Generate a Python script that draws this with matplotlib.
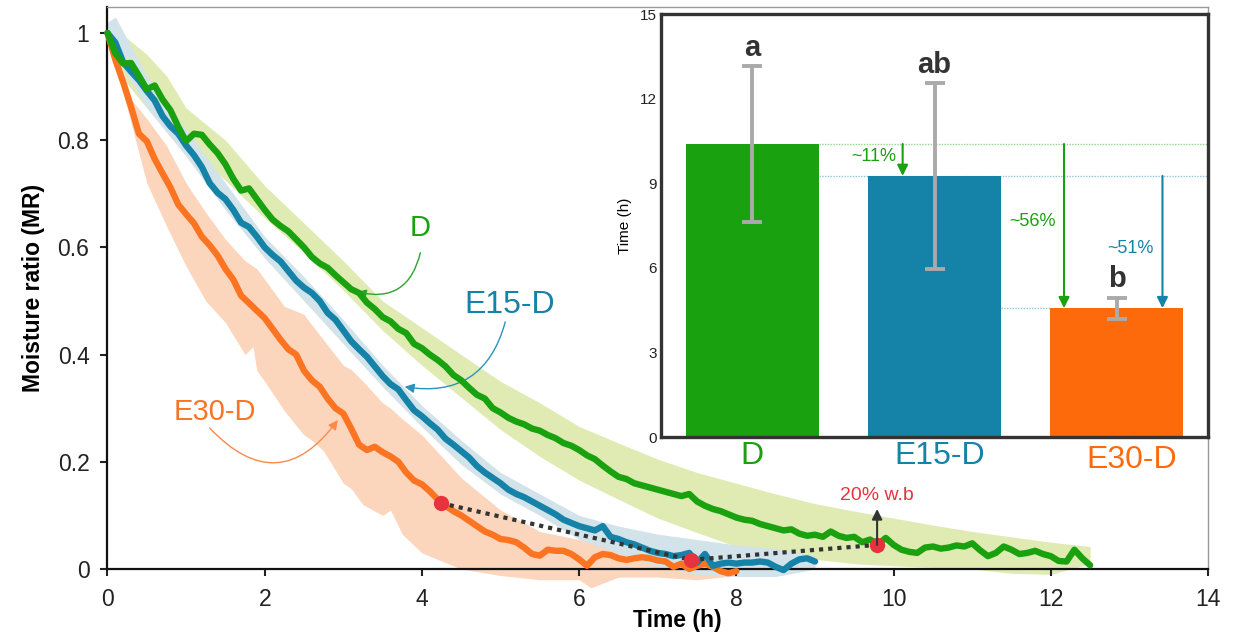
import numpy as np
import matplotlib
matplotlib.use('Agg')
import matplotlib.pyplot as plt
from matplotlib.ticker import FormatStrFormatter
import matplotlib.transforms as mtransforms

plt.rcParams['font.family'] = ['Liberation Sans', 'DejaVu Sans']

## drying curves (moisture ratio), sampled every 0.1 h
green_mr = [1.000, 0.962, 0.943, 0.944, 0.920, 0.895, 0.902, 0.876, 0.856, 0.825,
            0.798, 0.812, 0.810, 0.792, 0.776, 0.755, 0.728, 0.706, 0.710, 0.690,
            0.670, 0.652, 0.640, 0.630, 0.615, 0.600, 0.582, 0.570, 0.562, 0.548,
            0.535, 0.522, 0.515, 0.497, 0.485, 0.470, 0.462, 0.448, 0.440, 0.420,
            0.412, 0.400, 0.390, 0.378, 0.362, 0.352, 0.338, 0.325, 0.318, 0.300,
            0.292, 0.282, 0.275, 0.270, 0.262, 0.258, 0.250, 0.244, 0.235, 0.230,
            0.222, 0.212, 0.205, 0.193, 0.182, 0.172, 0.168, 0.160, 0.156, 0.152,
            0.148, 0.144, 0.140, 0.136, 0.140, 0.126, 0.118, 0.112, 0.108, 0.102,
            0.096, 0.092, 0.090, 0.084, 0.080, 0.076, 0.072, 0.074, 0.066, 0.062,
            0.064, 0.060, 0.070, 0.062, 0.058, 0.060, 0.050, 0.055, 0.046, 0.058,
            0.045, 0.036, 0.032, 0.030, 0.040, 0.042, 0.038, 0.040, 0.044, 0.042,
            0.048, 0.035, 0.024, 0.030, 0.042, 0.036, 0.028, 0.030, 0.034, 0.028,
            0.024, 0.015, 0.014, 0.036, 0.020, 0.007]
blue_mr = [1.000, 0.982, 0.945, 0.928, 0.912, 0.892, 0.874, 0.845, 0.826, 0.812,
           0.790, 0.772, 0.750, 0.720, 0.702, 0.690, 0.670, 0.646, 0.638, 0.620,
           0.600, 0.586, 0.574, 0.556, 0.538, 0.525, 0.515, 0.500, 0.478, 0.465,
           0.445, 0.425, 0.410, 0.396, 0.378, 0.360, 0.345, 0.335, 0.315, 0.296,
           0.285, 0.272, 0.260, 0.243, 0.232, 0.220, 0.208, 0.192, 0.180, 0.170,
           0.160, 0.148, 0.140, 0.134, 0.126, 0.118, 0.110, 0.102, 0.092, 0.086,
           0.080, 0.076, 0.072, 0.080, 0.060, 0.056, 0.050, 0.046, 0.040, 0.034,
           0.030, 0.028, 0.024, 0.026, 0.030, 0.012, 0.028, 0.006, 0.010, 0.012,
           0.010, 0.012, 0.012, 0.014, 0.012, 0.004, -0.002, 0.010, 0.018, 0.020,
           0.014]
orange_mr = [1.000, 0.950, 0.908, 0.862, 0.812, 0.798, 0.765, 0.738, 0.712, 0.680,
             0.662, 0.645, 0.620, 0.604, 0.585, 0.560, 0.540, 0.510, 0.496, 0.482,
             0.468, 0.448, 0.428, 0.410, 0.400, 0.370, 0.352, 0.340, 0.318, 0.300,
             0.290, 0.262, 0.232, 0.222, 0.228, 0.218, 0.210, 0.200, 0.180, 0.165,
             0.158, 0.145, 0.130, 0.118, 0.108, 0.100, 0.090, 0.080, 0.070, 0.064,
             0.056, 0.054, 0.050, 0.040, 0.028, 0.025, 0.036, 0.034, 0.034, 0.028,
             0.018, 0.006, 0.022, 0.028, 0.026, 0.020, 0.017, 0.020, 0.022, 0.020,
             0.016, 0.014, 0.004, 0.010, 0.000, 0.006, 0.010, 0.004, -0.004, -0.008,
             -0.004]

## spread bands
green_band_t = [0, 0.25, 0.5, 0.75, 1.0, 1.5, 2, 2.5, 3, 3.5, 4, 4.5, 5, 5.5, 6, 6.5,
                7, 7.5, 8, 8.5, 9, 9.5, 10, 10.5, 11, 11.5, 12, 12.5]
green_upper = [1.0, 0.99, 0.96, 0.92, 0.86, 0.80, 0.715, 0.645, 0.575, 0.50, 0.45, 0.40,
               0.35, 0.31, 0.266, 0.235, 0.205, 0.18, 0.16, 0.14, 0.122, 0.108, 0.095,
               0.082, 0.07, 0.06, 0.05, 0.042]
green_lower = [1.0, 0.905, 0.86, 0.825, 0.79, 0.725, 0.655, 0.59, 0.52, 0.445, 0.38, 0.32,
               0.26, 0.21, 0.166, 0.13, 0.095, 0.068, 0.042, 0.028, 0.018, 0.01, 0.006,
               0.003, 0.0, -0.008, -0.01, 0.01]
blue_band_t = [0, 0.1, 0.5, 1, 1.5, 2, 2.5, 3, 3.5, 4, 4.5, 5, 5.5, 6, 6.5, 7, 7.5, 8, 8.5, 9]
blue_upper = [1.02, 1.03, 0.92, 0.82, 0.72, 0.62, 0.545, 0.465, 0.38, 0.305, 0.24, 0.18,
              0.14, 0.10, 0.08, 0.065, 0.055, 0.045, 0.038, 0.025]
blue_lower = [0.98, 0.96, 0.86, 0.77, 0.67, 0.58, 0.50, 0.42, 0.34, 0.265, 0.195, 0.14,
              0.10, 0.055, 0.03, 0.005, -0.01, -0.014, -0.014, 0.0]
orange_band_t = [0, 0.25, 0.5, 0.75, 1.0, 1.25, 1.5, 1.75, 1.85, 1.9, 2, 2.25, 2.5, 2.6,
                 2.75, 3, 3.1, 3.25, 3.5, 3.6, 3.75, 4, 4.5, 5, 5.5, 6, 6.15, 6.5, 7, 7.5, 8]
orange_upper = [1.0, 0.885, 0.84, 0.79, 0.72, 0.665, 0.615, 0.575, 0.565, 0.56, 0.54, 0.49,
                0.475, 0.455, 0.427, 0.38, 0.372, 0.35, 0.31, 0.30, 0.28, 0.25, 0.17, 0.11,
                0.07, 0.055, 0.05, 0.048, 0.04, 0.03, 0.015]
orange_lower = [1.0, 0.86, 0.72, 0.64, 0.565, 0.50, 0.46, 0.40, 0.415, 0.37, 0.35, 0.295,
                0.25, 0.24, 0.22, 0.16, 0.15, 0.12, 0.10, 0.11, 0.065, 0.03, 0.0, -0.012,
                -0.02, -0.02, -0.035, -0.015, -0.015, -0.02, -0.012]

## 20% w.b points
wb_t = [4.24, 7.42, 9.79]
wb_mr = [0.123, 0.017, 0.045]

## inset: drying time (h)
groups = ['D', 'E15-D', 'E30-D']
times = [10.39, 9.26, 4.57]
errs = [2.77, 3.30, 0.37]
letters = ['a', 'ab', 'b']
pct_labels = ['~11%', '~56%', '~51%']

c_green, c_blue, c_orange = '#19a10f', '#1582a8', '#fd6a0c'

fig = plt.figure(figsize=(12.37, 6.34), dpi=100)
ax = fig.add_axes([0.0869, 0.1025, 0.8897, 0.8865])

ax.fill_between(green_band_t, green_lower, green_upper, color='#dfebb3', lw=0, zorder=1, clip_on=False)
ax.fill_between(orange_band_t, orange_lower, orange_upper, color='#fcd5bd', lw=0, zorder=1.1, clip_on=False)
ax.fill_between(blue_band_t, blue_lower, blue_upper, color='#d3e3ea', lw=0, zorder=1.2, clip_on=False)

t_green = np.arange(len(green_mr)) * 0.1
t_blue = np.arange(len(blue_mr)) * 0.1
t_orange = np.arange(len(orange_mr)) * 0.1
line_kw = dict(lw=4.6, clip_on=False, solid_joinstyle='round', solid_capstyle='round')
ax.plot(t_orange, orange_mr, color='#fb7421', zorder=3, **line_kw)
ax.plot(t_blue, blue_mr, color=c_blue, zorder=3.1, **line_kw)
ax.plot(t_green, green_mr, color=c_green, zorder=3.2, **line_kw)

# 20% w.b markers
ax.plot(wb_t, wb_mr, color='#333333', lw=3, ls=(0, (1, 1.2)), zorder=4)
ax.plot(wb_t, wb_mr, 'o', color='#e8333f', ms=11, mec='none', zorder=5, clip_on=False)
ax.annotate('', xy=(wb_t[2], 0.112), xytext=(wb_t[2], wb_mr[2]),
            arrowprops=dict(arrowstyle='-|>', color='#333333', lw=1.5, mutation_scale=15,
                            shrinkA=0, shrinkB=0), zorder=6)
ax.text(wb_t[2], 0.122, '20% w.b', color='#e8333f', fontsize=14, ha='center', va='bottom')

# curve labels with curved pointer arrows
ax.text(3.98, 0.636, 'D', color=c_green, fontsize=21, ha='center', va='center')
ax.annotate('', xy=(3.17, 0.517), xytext=(3.98, 0.590),
            arrowprops=dict(arrowstyle='-|>', color='#2aa52a', lw=1, mutation_scale=14,
                            connectionstyle='arc3,rad=-0.5', shrinkA=0, shrinkB=0))
ax.text(5.12, 0.493, 'E15-D', color=c_blue, fontsize=23, ha='center', va='center')
ax.annotate('', xy=(3.78, 0.34), xytext=(5.06, 0.461),
            arrowprops=dict(arrowstyle='-|>', color='#2a93bb', lw=1, mutation_scale=14,
                            connectionstyle='arc3,rad=-0.45', shrinkA=0, shrinkB=0))
ax.text(1.37, 0.293, 'E30-D', color='#fb7421', fontsize=21, ha='center', va='center')
ax.annotate('', xy=(2.93, 0.278), xytext=(1.30, 0.263),
            arrowprops=dict(arrowstyle='-|>', color='#fb8a4a', lw=1, mutation_scale=14,
                            connectionstyle='arc3,rad=0.6', shrinkA=0, shrinkB=0))

ax.set_xlim(0, 14)
ax.set_ylim(0, 1.0485)
ax.set_xticks(range(0, 15, 2))
ax.set_yticks([0, 0.2, 0.4, 0.6, 0.8, 1.0])
ax.yaxis.set_major_formatter(FormatStrFormatter('%g'))
ax.tick_params(direction='out', length=5, width=1.5, labelsize=16.5, colors='#222222', pad=8)
ax.tick_params(axis='x', pad=9)
for s in ['left', 'bottom']:
    ax.spines[s].set_linewidth(1.6)
    ax.spines[s].set_color('#111111')
for s in ['top', 'right']:
    ax.spines[s].set_linewidth(1)
    ax.spines[s].set_color('#999999')
ax.set_ylabel('Moisture ratio (MR)', fontsize=16.5, fontweight='bold', labelpad=9)
ax.set_xlabel('Time (h)', fontsize=16.5, fontweight='bold')
ax.xaxis.set_label_coords(0.5175, -0.091)
ax.xaxis.label.set_va('center')

## inset bar chart
axi = fig.add_axes([0.5344, 0.3107, 0.4422, 0.6672], zorder=10)
x = np.arange(len(groups))
colors = [c_green, c_blue, c_orange]
axi.bar(x, times, width=0.73, color=colors, zorder=2)
axi.errorbar(x, times, yerr=errs, fmt='none', ecolor='#aaaaaa', elinewidth=2.8,
             capsize=7, capthick=2.8, zorder=3)
for xi, t, e, lab in zip(x, times, errs, letters):
    axi.text(xi, t + e + 0.15, lab, ha='center', va='bottom', fontsize=21, fontweight='bold',
             color='#333333', family=['Liberation Sans Narrow', 'Liberation Sans'])

# reference lines between bars
axi.plot([0.365, 2.5], [times[0], times[0]], color='#8fd58a', lw=1, ls=(0, (1, 1)), zorder=1)
axi.plot([0.365, 2.5], [times[1], times[1]], color='#8ec5dc', lw=1, ls=(0, (1, 1)), zorder=1)
axi.plot([1.365, 1.635], [times[2], times[2]], color='#8ec5dc', lw=1, ls=(0, (1, 1)), zorder=1)

arrow_kw = dict(arrowstyle='-|>', lw=1.5, mutation_scale=16, shrinkA=0, shrinkB=0)
axi.annotate('', xy=(0.825, times[1]), xytext=(0.825, times[0]),
             arrowprops=dict(color=c_green, **arrow_kw), zorder=4)
axi.annotate('', xy=(1.71, times[2]), xytext=(1.71, times[0]),
             arrowprops=dict(color=c_green, **arrow_kw), zorder=4)
axi.annotate('', xy=(2.25, times[2]), xytext=(2.25, times[1]),
             arrowprops=dict(color=c_blue, **arrow_kw), zorder=4)
axi.text(0.667, 9.93, pct_labels[0], color=c_green, fontsize=13, ha='center', va='center')
axi.text(1.536, 7.66, pct_labels[1], color=c_green, fontsize=13, ha='center', va='center')
axi.text(2.077, 6.70, pct_labels[2], color=c_blue, fontsize=13, ha='center', va='center')

axi.set_xlim(-0.5, 2.5)
axi.set_ylim(0, 15)
axi.set_yticks([0, 3, 6, 9, 12, 15])
axi.tick_params(axis='y', length=0, labelsize=11, colors='#222222', pad=3)
axi.set_xticks([])
trans = mtransforms.blended_transform_factory(axi.transData, axi.transAxes)
for xi, lab, col, dx, dy in zip(x, groups, colors, [0, 0.03, 0.08], [-0.045, -0.045, -0.055]):
    axi.text(xi + dx, dy, lab, color=col, fontsize=23, ha='center', va='center', transform=trans)
axi.set_ylabel('Time (h)', fontsize=11, labelpad=6)
for s in axi.spines.values():
    s.set_linewidth(2.4)
    s.set_color('#333333')

plt.savefig('out.png', dpi=100)
